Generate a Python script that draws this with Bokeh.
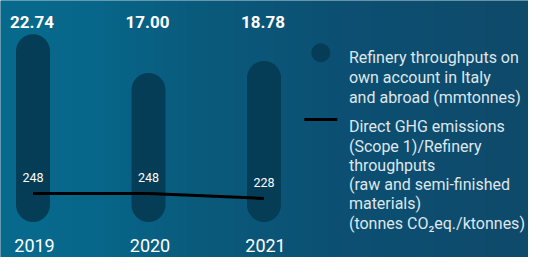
import numpy as np
from bokeh.plotting import figure
from bokeh.models import Range1d
from bokeh.core.properties import value
from bokeh.embed import file_html
from bokeh.resources import INLINE

# ---- data ----
years = ["2019", "2020", "2021"]
throughputs = [22.74, 17.00, 18.78]
throughput_labels = ["22.74", "17.00", "18.78"]
intensity = [248, 248, 228]
intensity_labels = ["248", "248", "228"]
legend_bars = ["Refinery throughputs on", "own account in Italy", "and abroad (mmtonnes)"]
legend_line = ["Direct GHG emissions", "(Scope 1)/Refinery", "throughputs",
               "(raw and semi-finished", "materials)", "(tonnes CO\u2082eq./ktonnes)"]

BAR = "#053d56"
FONT = value("Roboto")
idx = list(range(len(years)))

W, H = 528, 257
p = figure(width=W, height=H, output_backend="svg", toolbar_location=None,
           x_range=Range1d(-0.2814, 4.290), y_range=Range1d(H, 0),
           x_axis_type=None, y_axis_type=None, min_border=0,
           outline_line_color=None)
p.background_fill_color = "#0a5a7c"
p.border_fill_color = "#0a5a7c"
p.grid.visible = False
p.extra_x_ranges = {"px": Range1d(0, W)}
p.extra_y_ranges = {"bars": Range1d(-7.742, 30.23),
                    "line": Range1d(-13.2, 1035.8),
                    "unit": Range1d(0, 1)}

# background gradient (decoration)
stops_x = [0, 97, 194, 340, 528]
stops_c = [(8, 107, 142), (7, 103, 138), (10, 91, 125), (12, 80, 115), (15, 74, 106)]
px = np.arange(0, W) + 0.5
img = np.zeros((1, W), dtype=np.uint32)
view = img.view(dtype=np.uint8).reshape((1, W, 4))
for k in range(3):
    view[0, :, k] = np.interp(px, stops_x, [c[k] for c in stops_c]).astype(np.uint8)
view[0, :, 3] = 255
p.image_rgba(image=[img], x=0, y=0, dw=W, dh=1, x_range_name="px", y_range_name="unit")

# pill bars
p.segment(x0=idx, y0=[0] * 3, x1=idx, y1=throughputs, y_range_name="bars",
          line_width=34, line_cap="round", line_color=BAR)

# line series
p.line(idx, intensity, y_range_name="line", line_color="black", line_width=3)
p.text(idx, intensity, text=intensity_labels, y_range_name="line", y_offset=-16,
       text_align="center", text_baseline="middle", text_font_size="12.5px",
       text_color="white", text_font=FONT)

# bar value labels
p.text(idx, [21.5] * 3, text=throughput_labels, x_offset=-1, text_align="center",
       text_baseline="alphabetic", text_font_size="17px", text_font_style="bold",
       text_color="white", text_font=FONT)

# year labels
p.text(idx, [245] * 3, text=years, x_offset=1.5, text_align="center",
       text_baseline="alphabetic", text_font_size="18px",
       text_color="white", text_font=FONT)

# legend
p.scatter(x=[320.3], y=[52.2], x_range_name="px", size=18, color=BAR)
p.segment(x0=[303.8], y0=[119.1], x1=[336.8], y1=[119.1], x_range_name="px",
          line_width=3, line_color="black")
p.text([348.4] * len(legend_bars), [56.8 + 20.15 * i for i in range(len(legend_bars))],
       text=legend_bars, x_range_name="px", text_baseline="alphabetic",
       text_font_size="16px", text_color="#dfe7ec", text_font=FONT)
p.text([348.4] * len(legend_line), [126.4 + 19.24 * i for i in range(len(legend_line))],
       text=legend_line, x_range_name="px", text_baseline="alphabetic",
       text_font_size="16px", text_color="#dfe7ec", text_font=FONT)

open("out.html", "w").write(file_html(p, INLINE))
